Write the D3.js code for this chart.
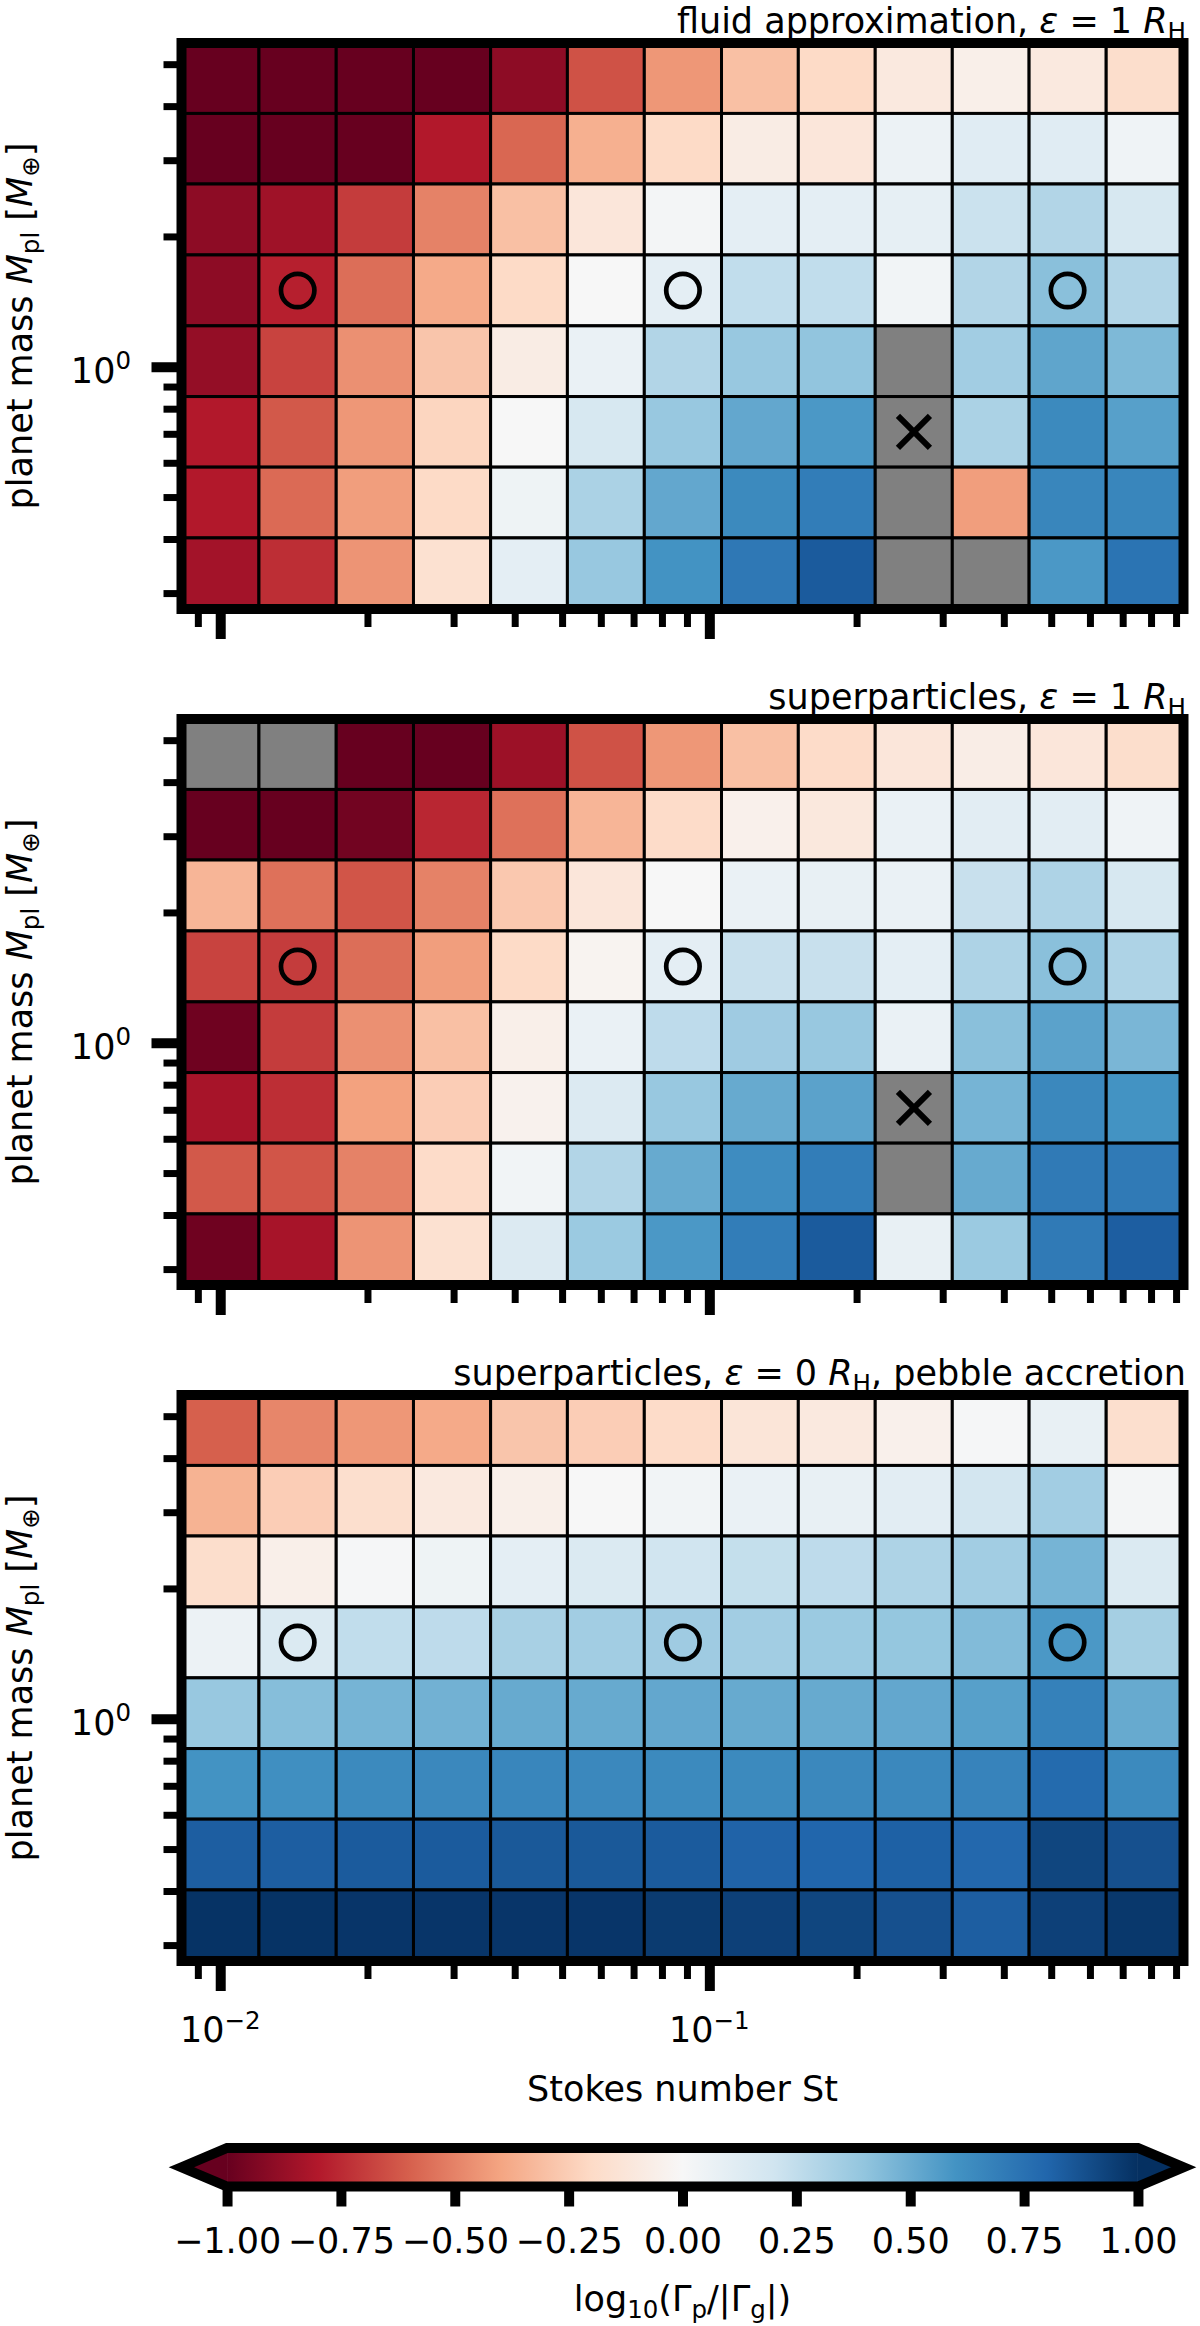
<!DOCTYPE html>
<html>
<head>
<meta charset="utf-8">
<script src="https://cdn.jsdelivr.net/npm/d3@7"></script>
<style>
  body { margin: 0; background: #fff; }
  svg { display: block; font-family: "DejaVu Sans", sans-serif; }
</style>
</head>
<body>
<svg id="chart" width="1200" height="2326"></svg>
<script>
// Column centres: Stokes number St
const stokes = [0.0100, 0.0144, 0.0207, 0.0298, 0.0428, 0.0614, 0.0883, 0.127, 0.182, 0.262, 0.376, 0.540, 0.777];
// Row centres: planet mass in Earth masses, top row first
const masses = [4.64, 3.19, 2.19, 1.50, 1.03, 0.707, 0.486, 0.333];

// log10(Gamma_p / |Gamma_g|), one row per mass (top first); null = no data (grey)
const fluidGrid = [
  [-1.00, -1.00, -1.00, -1.00, -0.90, -0.64, -0.44, -0.30, -0.20, -0.10, -0.06, -0.10, -0.18],
  [-1.00, -1.00, -1.00, -0.80, -0.58, -0.36, -0.20, -0.08, -0.12, 0.06, 0.12, 0.12, 0.04],
  [-0.90, -0.85, -0.70, -0.50, -0.30, -0.12, 0.02, 0.10, 0.10, 0.09, 0.22, 0.30, 0.17],
  [-0.90, -0.78, -0.56, -0.38, -0.20, 0.00, 0.10, 0.25, 0.25, 0.03, 0.30, 0.42, 0.30],
  [-0.88, -0.68, -0.46, -0.28, -0.08, 0.07, 0.30, 0.38, 0.40, null, 0.35, 0.53, 0.45],
  [-0.80, -0.62, -0.44, -0.22, 0.00, 0.17, 0.38, 0.52, 0.58, null, 0.32, 0.64, 0.55],
  [-0.80, -0.57, -0.42, -0.20, 0.05, 0.32, 0.52, 0.64, 0.70, null, -0.42, 0.66, 0.66],
  [-0.84, -0.74, -0.45, -0.16, 0.10, 0.38, 0.60, 0.72, 0.84, null, null, 0.58, 0.74]
];

const superGrid = [
  [null, null, -1.00, -1.00, -0.86, -0.64, -0.44, -0.30, -0.19, -0.12, -0.07, -0.12, -0.18],
  [-1.00, -1.00, -0.97, -0.76, -0.55, -0.34, -0.19, -0.05, -0.11, 0.07, 0.11, 0.11, 0.04],
  [-0.34, -0.55, -0.63, -0.50, -0.27, -0.12, 0.00, 0.07, 0.08, 0.07, 0.23, 0.31, 0.17],
  [-0.68, -0.70, -0.56, -0.42, -0.20, -0.03, 0.10, 0.23, 0.23, 0.10, 0.31, 0.42, 0.31],
  [-0.98, -0.70, -0.46, -0.30, -0.06, 0.07, 0.26, 0.36, 0.38, 0.07, 0.42, 0.54, 0.46],
  [-0.83, -0.74, -0.41, -0.25, -0.04, 0.14, 0.38, 0.51, 0.54, null, 0.47, 0.65, 0.60],
  [-0.62, -0.63, -0.50, -0.19, 0.03, 0.30, 0.51, 0.63, 0.70, null, 0.51, 0.71, 0.71],
  [-0.98, -0.83, -0.45, -0.16, 0.14, 0.37, 0.58, 0.70, 0.84, 0.08, 0.37, 0.71, 0.83]
];

const pebbleGrid = [
  [-0.60, -0.49, -0.44, -0.38, -0.28, -0.25, -0.19, -0.13, -0.10, -0.05, 0.01, 0.08, -0.17],
  [-0.35, -0.25, -0.17, -0.10, -0.06, 0.00, 0.03, 0.07, 0.08, 0.11, 0.19, 0.35, 0.02],
  [-0.18, -0.06, 0.01, 0.05, 0.10, 0.15, 0.20, 0.24, 0.26, 0.31, 0.35, 0.47, 0.15],
  [0.06, 0.15, 0.25, 0.26, 0.33, 0.35, 0.36, 0.35, 0.37, 0.39, 0.44, 0.58, 0.34],
  [0.38, 0.43, 0.47, 0.48, 0.51, 0.51, 0.52, 0.51, 0.51, 0.52, 0.55, 0.68, 0.51],
  [0.60, 0.62, 0.64, 0.65, 0.66, 0.65, 0.64, 0.64, 0.65, 0.65, 0.67, 0.78, 0.64],
  [0.83, 0.83, 0.84, 0.84, 0.85, 0.85, 0.84, 0.81, 0.80, 0.82, 0.79, 0.92, 0.88],
  [0.99, 0.99, 0.98, 0.98, 0.98, 0.98, 0.96, 0.94, 0.92, 0.88, 0.83, 0.94, 0.97]
];

// marker positions
const circleStokes = [0.0144, 0.0883, 0.540];
const circleMass = 1.50;
const crossStokes = 0.262;
const crossMass = 0.707;

// titles as [text, style] pieces
const fluidTitle = [["fluid approximation, "], ["ε", "i"], [" = 1 "], ["R", "i"], ["H", "sub"]];
const superTitle = [["superparticles, "], ["ε", "i"], [" = 1 "], ["R", "i"], ["H", "sub"]];
const pebbleTitle = [["superparticles, "], ["ε", "i"], [" = 0 "], ["R", "i"], ["H", "sub"], [", pebble accretion"]];

// ticks
const xMajorTicks = [0.01, 0.1];
const xMajorLabels = [["−2"], ["−1"]];
const xMinorTicks = [0.009, 0.02, 0.03, 0.04, 0.05, 0.06, 0.07, 0.08, 0.09, 0.2, 0.3, 0.4, 0.5, 0.6, 0.7, 0.8, 0.9];
const yMajorTicks = [1];
const yMinorTicks = [0.3, 0.4, 0.5, 0.6, 0.7, 0.8, 0.9, 2, 3, 4, 5];
const cbTicks = [-1, -0.75, -0.5, -0.25, 0, 0.25, 0.5, 0.75, 1];

// RdBu colormap anchors (matplotlib / ColorBrewer)
const rdbu = ["#67001f", "#b2182b", "#d6604d", "#f4a582", "#fddbc7", "#f7f7f7",
              "#d1e5f0", "#92c5de", "#4393c3", "#2166ac", "#053061"];

const panels = [
  {grid: fluidGrid, title: fluidTitle, cross: true},
  {grid: superGrid, title: superTitle, cross: true},
  {grid: pebbleGrid, title: pebbleTitle, cross: false}
];

// layout
const FS = 35;
const left = 181.5, right = 1183.5;
const tops = [43, 719, 1395];
const panelH = 566;

const svg = d3.select("#chart");

const color = d3.scaleLinear()
    .domain(rdbu.map((_, i) => -1 + i * 0.2))
    .range(rdbu)
    .clamp(true);

// cell edges halfway (in log) between centres
function logEdges(c) {
  const mids = d3.pairs(c, (a, b) => Math.sqrt(a * b));
  return [c[0] * c[0] / mids[0], ...mids, c[c.length - 1] * c[c.length - 1] / mids[mids.length - 1]];
}
const stEdges = logEdges(stokes);
const mEdges = logEdges(masses);

const x = d3.scaleLog().domain([stEdges[0], stEdges[stEdges.length - 1]]).range([left, right]);

// text with italic / sub / sup pieces
function richText(sel, parts, size) {
  let shift = 0;
  parts.forEach(([str, kind]) => {
    const t = sel.append("tspan").text(str);
    let target = 0;
    if (kind === "sub") target = size * 0.2;
    if (kind === "sup") target = -size * 0.38;
    if (target !== shift) t.attr("dy", target - shift);
    shift = target;
    if (kind === "sub" || kind === "sup") t.attr("font-size", size * 0.7);
    if (kind === "i") t.attr("font-style", "italic");
  });
  return sel;
}

panels.forEach((p, pi) => {
  const top = tops[pi];
  const y = d3.scaleLog().domain([mEdges[0], mEdges[mEdges.length - 1]]).range([top, top + panelH]);
  const g = svg.append("g");

  // cells
  const cells = [];
  p.grid.forEach((row, r) => row.forEach((v, c) => cells.push({r, c, v})));
  g.append("g").selectAll("rect")
    .data(cells)
    .join("rect")
      .attr("x", d => x(stEdges[d.c]))
      .attr("y", d => y(mEdges[d.r]))
      .attr("width", d => x(stEdges[d.c + 1]) - x(stEdges[d.c]))
      .attr("height", d => y(mEdges[d.r + 1]) - y(mEdges[d.r]))
      .attr("fill", d => d.v === null ? "#808080" : color(d.v))
      .attr("stroke", "#000")
      .attr("stroke-width", 3);

  // open circles
  g.append("g").selectAll("circle")
    .data(circleStokes)
    .join("circle")
      .attr("cx", d => x(d))
      .attr("cy", y(circleMass))
      .attr("r", 16.7)
      .attr("fill", "none")
      .attr("stroke", "#000")
      .attr("stroke-width", 4.7);

  // cross marker
  if (p.cross) {
    const cx = x(crossStokes), cy = y(crossMass), a = 16;
    g.append("path")
      .attr("d", `M${cx - a},${cy - a}L${cx + a},${cy + a}M${cx - a},${cy + a}L${cx + a},${cy - a}`)
      .attr("stroke", "#000")
      .attr("stroke-width", 6)
      .attr("fill", "none");
  }

  // axes ticks
  const styleAxis = (sel, w) => {
    sel.select(".domain").remove();
    sel.selectAll(".tick line").attr("stroke", "#000").attr("stroke-width", w);
  };
  g.append("g").attr("transform", `translate(${left},0)`)
    .call(d3.axisLeft(y).tickValues(yMinorTicks).tickSize(18).tickFormat(""))
    .call(s => styleAxis(s, 7));
  g.append("g").attr("transform", `translate(${left},0)`)
    .call(d3.axisLeft(y).tickValues(yMajorTicks).tickSize(30).tickFormat(""))
    .call(s => styleAxis(s, 10));
  g.append("g").attr("transform", `translate(0,${top + panelH})`)
    .call(d3.axisBottom(x).tickValues(xMinorTicks).tickSize(18).tickFormat(""))
    .call(s => styleAxis(s, 7));
  g.append("g").attr("transform", `translate(0,${top + panelH})`)
    .call(d3.axisBottom(x).tickValues(xMajorTicks).tickSize(30).tickFormat(""))
    .call(s => styleAxis(s, 10));

  // frame
  g.append("rect")
    .attr("x", left).attr("y", top)
    .attr("width", right - left).attr("height", panelH)
    .attr("fill", "none").attr("stroke", "#000").attr("stroke-width", 10);

  // y tick label 10^0
  yMajorTicks.forEach(v => {
    richText(g.append("text")
      .attr("x", 131).attr("y", y(v) + 16)
      .attr("text-anchor", "end").attr("font-size", FS), [["10"], ["0", "sup"]], FS);
  });

  // y label
  richText(g.append("text")
    .attr("transform", `translate(31.5,${top + panelH / 2}) rotate(-90)`)
    .attr("text-anchor", "middle").attr("font-size", FS),
    [["planet mass "], ["M", "i"], ["pl", "sub"], [" ["], ["M", "i"], ["⊕", "sub"], ["]"]], FS);

  // title
  richText(g.append("text")
    .attr("x", 1186).attr("y", top - 10)
    .attr("text-anchor", "end").attr("font-size", FS), p.title, FS);

  // x tick labels only on bottom panel
  if (pi === panels.length - 1) {
    xMajorTicks.forEach((v, i) => {
      richText(g.append("text")
        .attr("x", x(v)).attr("y", top + panelH + 81)
        .attr("text-anchor", "middle").attr("font-size", FS), [["10"], [xMajorLabels[i][0], "sup"]], FS);
    });
    g.append("text")
      .attr("x", (left + right) / 2).attr("y", 2101)
      .attr("text-anchor", "middle").attr("font-size", FS)
      .text("Stokes number St");
  }
});

// colorbar
const cbTop = 2148, cbBot = 2186.5, cbMid = (cbTop + cbBot) / 2;
const cbExt = (right - left) * 0.05 / 1.1;
const cb = d3.scaleLinear().domain([-1, 1]).range([left + cbExt, right - cbExt]);

const grad = svg.append("defs").append("linearGradient")
  .attr("id", "cbgrad").attr("x1", "0%").attr("x2", "100%");
grad.selectAll("stop").data(rdbu).join("stop")
  .attr("offset", (d, i) => `${i * 10}%`)
  .attr("stop-color", d => d);

const cbg = svg.append("g");
cbg.append("path")
  .attr("d", `M${left},${cbMid}L${cb(-1)},${cbTop}L${cb(-1)},${cbBot}Z`)
  .attr("fill", color(-1));
cbg.append("path")
  .attr("d", `M${right},${cbMid}L${cb(1)},${cbTop}L${cb(1)},${cbBot}Z`)
  .attr("fill", color(1));
cbg.append("rect")
  .attr("x", cb(-1)).attr("y", cbTop)
  .attr("width", cb(1) - cb(-1)).attr("height", cbBot - cbTop)
  .attr("fill", "url(#cbgrad)");

cbg.append("g").attr("transform", `translate(0,${cbBot})`)
  .call(d3.axisBottom(cb).tickValues(cbTicks).tickSize(20).tickFormat(d3.format(".2f")))
  .call(s => {
    s.select(".domain").remove();
    s.attr("font-family", null).attr("font-size", null);
    s.selectAll(".tick line").attr("stroke", "#000").attr("stroke-width", 10);
    s.selectAll(".tick text").attr("y", 66.5).attr("dy", null)
      .attr("font-size", FS).attr("fill", "#000");
  });

cbg.append("path")
  .attr("d", `M${left},${cbMid}L${cb(-1)},${cbTop}L${cb(1)},${cbTop}L${right},${cbMid}L${cb(1)},${cbBot}L${cb(-1)},${cbBot}Z`)
  .attr("fill", "none").attr("stroke", "#000").attr("stroke-width", 10)
  .attr("stroke-linejoin", "miter");

richText(svg.append("text")
  .attr("x", (left + right) / 2).attr("y", 2311)
  .attr("text-anchor", "middle").attr("font-size", FS),
  [["log"], ["10", "sub"], ["(Γ"], ["p", "sub"], ["/|Γ"], ["g", "sub"], ["|)"]], FS);
</script>
</body>
</html>
